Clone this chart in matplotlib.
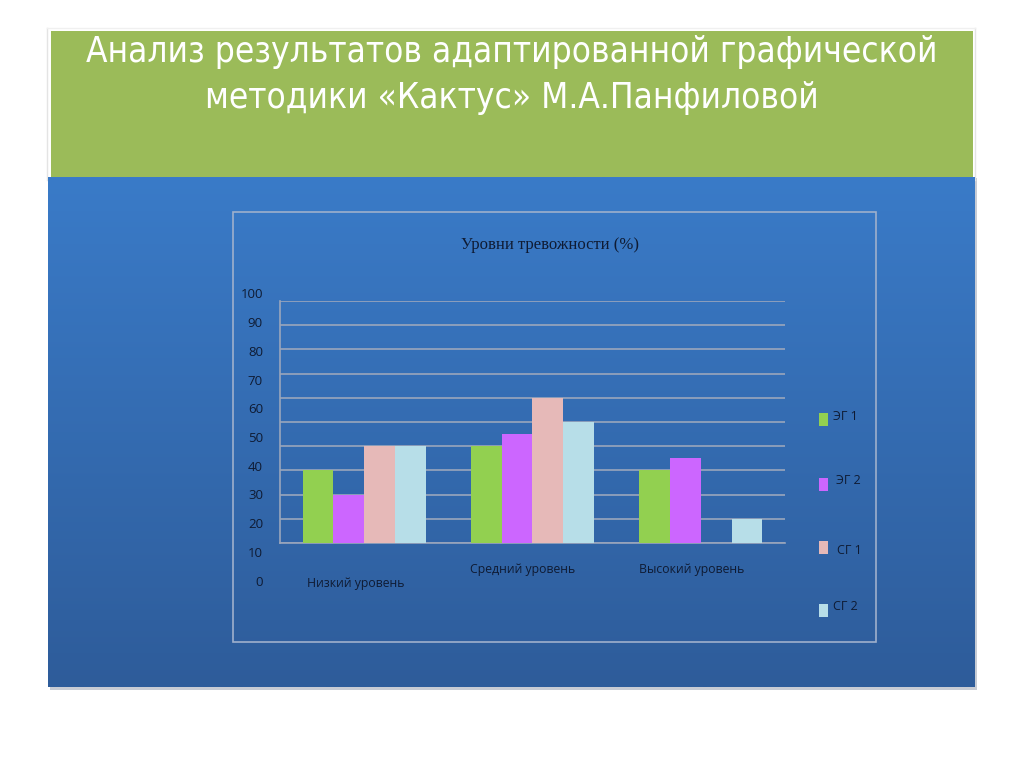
import numpy as np
import matplotlib
matplotlib.use("Agg")
import matplotlib.pyplot as plt
from matplotlib.patches import Rectangle
from matplotlib import font_manager as fm

# ---------------- data ----------------
categories = ["Низкий уровень", "Средний уровень", "Высокий уровень"]
series_names = ["ЭГ 1", "ЭГ 2", "СГ 1", "СГ 2"]
eg1 = [30, 40, 30]
eg2 = [20, 45, 35]
sg1 = [40, 60, 0]
sg2 = [40, 50, 10]
ytick_labels = ["0", "10", "20", "30", "40", "50", "60", "70", "80", "90", "100"]
series_colors = ["#92D050", "#CC66FF", "#E6B9B8", "#B7DEE8"]

slide_title = "Анализ результатов адаптированной графической\nметодики «Кактус» М.А.Панфиловой"
chart_title = "Уровни тревожности (%)"

W, H = 1024, 767
fig = plt.figure(figsize=(W / 100, H / 100), dpi=100)
fig.patch.set_facecolor("white")

# choose a condensed font for the title if one is installed
cands = []
for f in fm.fontManager.ttflist:
    nm = (f.name + " " + f.fname).lower()
    if ("condensed" in nm or "narrow" in nm or str(f.stretch) in ("condensed", "semi-condensed", "extra-condensed")) \
            and f.weight in ("normal", 400, "regular", "book") and f.style == "normal" \
            and "mono" not in nm and "cjk" not in nm:
        cands.append(f)
if cands:
    title_fp = fm.FontProperties(fname=cands[0].fname)
else:
    title_fp = fm.FontProperties(family="Roboto")

sans = "Open Sans"
serif = "Liberation Serif"

# background axes in pixel coordinates
bg = fig.add_axes([0, 0, 1, 1])
bg.set_xlim(0, W)
bg.set_ylim(H, 0)
bg.axis("off")

# faint slide borders
for xx in (47, 975):
    bg.plot([xx, xx], [28, 180], color="#E4E4E4", lw=1)
bg.plot([47, 975], [28, 28], color="#F0F0F0", lw=1)

# green header
bg.add_patch(Rectangle((51, 31), 922, 147, facecolor="#9BBB59", edgecolor="none"))
# shadow of blue panel
bg.add_patch(Rectangle((50, 178), 927, 512, facecolor="#C8CCD4", edgecolor="none"))
# blue gradient panel
grad = np.linspace(0, 1, 256).reshape(-1, 1)
top = np.array([0x3A, 0x7B, 0xC8]) / 255
bot = np.array([0x2E, 0x5C, 0x9A]) / 255
img = top[None, None, :] * (1 - grad[..., None]) + bot[None, None, :] * grad[..., None]
bg.imshow(img, extent=[48, 975, 687, 177], aspect="auto", zorder=2, interpolation="bilinear")
bg.set_xlim(0, W)
bg.set_ylim(H, 0)

# title, auto-fitted to the reference width (~850 px)
t = bg.text(512, 75, slide_title, ha="center", va="center", color="white",
            fontproperties=title_fp, fontsize=29, linespacing=1.45, zorder=5)
fig.canvas.draw()
wpx = t.get_window_extent(fig.canvas.get_renderer()).width
t.set_fontsize(29 * 850 / wpx)

# chart frame
bg.add_patch(Rectangle((233, 212), 643, 430, facecolor="none", edgecolor="#9FB0CC", lw=1.2, zorder=5))
bg.text(550, 245, chart_title, ha="center", va="center", color="#0F1B33",
        fontsize=12, family=serif, zorder=5)

# ---------------- plot axes ----------------
left, right, ptop, pbot = 280, 785, 301, 543
ax = fig.add_axes([left / W, 1 - pbot / H, (right - left) / W, (pbot - ptop) / H])
ax.set_facecolor("none")
ax.set_zorder(6)
x = np.arange(len(categories))
w = 0.183
data = [eg1, eg2, sg1, sg2]
for i, (vals, col) in enumerate(zip(data, series_colors)):
    ax.bar(x + (i - 1.5) * w, vals, width=w, color=col, edgecolor="none", zorder=3)
ax.set_xlim(-0.5, 2.5)
ax.set_ylim(0, 100)
ax.set_yticks(np.arange(0, 101, 10))
ax.yaxis.grid(True, color="#9AA6BC", lw=1.2, zorder=0)
ax.set_axisbelow(True)
ax.tick_params(left=False, bottom=False, labelleft=False, labelbottom=False)
for s in ["top", "right"]:
    ax.spines[s].set_visible(False)
for s in ["left", "bottom"]:
    ax.spines[s].set_color("#9AA6BC")
    ax.spines[s].set_linewidth(1.2)

# y tick labels (offset as in the original rendering)
txtcol = "#0F1B33"
label_ys = np.linspace(582, 295, len(ytick_labels))
for lab, yy in zip(ytick_labels, label_ys):
    bg.text(263, yy, lab, ha="right", va="center", fontsize=9.5, family=sans, color=txtcol, zorder=7)

# category labels
cat_pos = [(356, 583), (523, 569), (692, 569)]
for lab, (cx, cy) in zip(categories, cat_pos):
    bg.text(cx, cy, lab, ha="center", va="center", fontsize=8.8, family=sans, color=txtcol, zorder=7)

# legend
leg_pos = [(824, 419, 845, 416), (824, 484, 848, 480), (824, 547, 849, 551), (824, 610, 845, 606)]
for name, col, (mx, my, tx, ty) in zip(series_names, series_colors, leg_pos):
    bg.add_patch(Rectangle((mx - 5, my - 6), 9, 13, facecolor=col, edgecolor="none", zorder=7))
    bg.text(tx, ty, name, ha="center", va="center", fontsize=9, family=sans, color=txtcol, zorder=7)

fig.savefig("out.png", dpi=100, facecolor="white")
